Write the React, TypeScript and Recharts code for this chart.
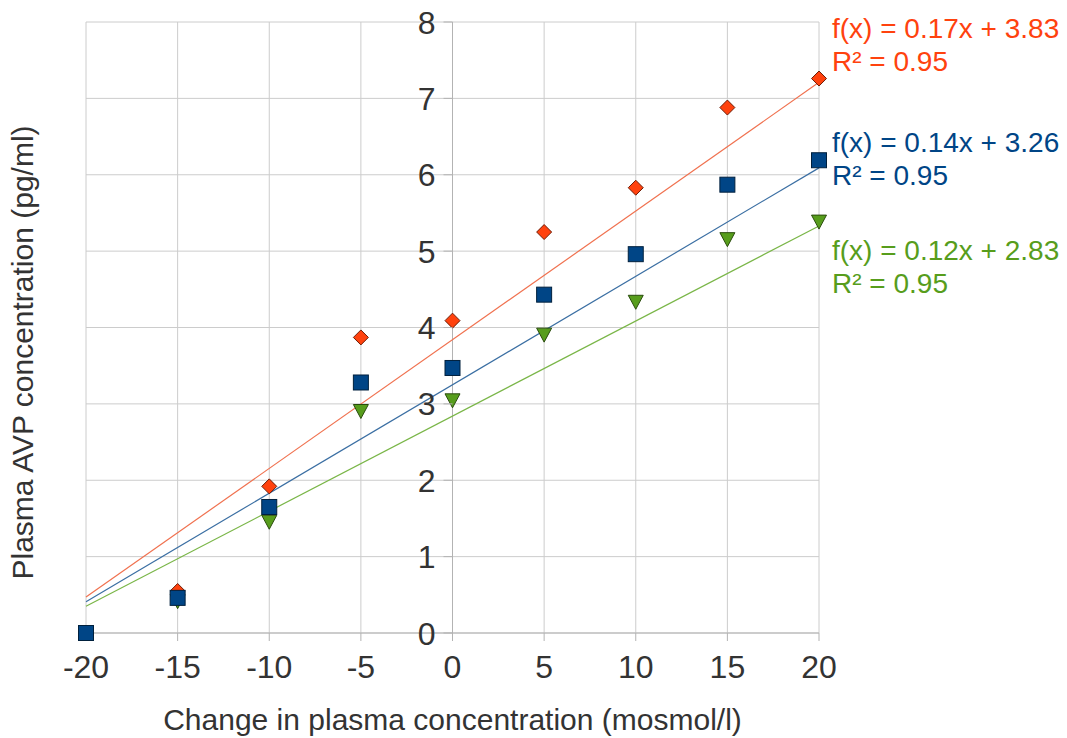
import React from 'react';
import {
  ScatterChart,
  Scatter,
  XAxis,
  YAxis,
  CartesianGrid,
  ReferenceLine,
  ReferenceDot,
  Label,
} from 'recharts';

// x values (change in plasma concentration, mosmol/l)
const xValues = [-20, -15, -10, -5, 0, 5, 10, 15, 20];
const xTicks = [-20, -15, -10, -5, 0, 5, 10, 15, 20];
const yTicks = [0, 1, 2, 3, 4, 5, 6, 7, 8];

// measured AVP (pg/ml)
const orangeValues = [0, 0.55, 1.92, 3.87, 4.09, 5.25, 5.83, 6.88, 7.26];
const blueValues = [0, 0.46, 1.65, 3.28, 3.47, 4.43, 4.96, 5.87, 6.19];
const greenValues = [0, 0.41, 1.45, 2.9, 3.04, 3.9, 4.33, 5.15, 5.38];

// trend line end points at x = -20 and x = 20
const trendX = [-20, 20];
const orangeTrend = [0.47, 7.21];
const blueTrend = [0.41, 6.09];
const greenTrend = [0.35, 5.33];

const equations = [
  { fx: 'f(x) = 0.17x + 3.83', r2: 'R² = 0.95', color: '#ff420e', at: 7.79 },
  { fx: 'f(x) = 0.14x + 3.26', r2: 'R² = 0.95', color: '#004586', at: 6.3 },
  { fx: 'f(x) = 0.12x + 2.83', r2: 'R² = 0.95', color: '#579d1c', at: 4.89 },
];

const toPoints = (xs: number[], ys: number[]) => xs.map((x, i) => ({ x, y: ys[i] }));

const FONT = '"Liberation Sans", Arial, sans-serif';
const TEXT = '#333333';
const AXIS = '#b3b3b3';
const GRID = '#cccccc';

const W = 1067;
const H = 738;
const MARGIN = { top: 22, right: 248, left: 26, bottom: 5 };
const Y_AXIS_W = 60;
const PLOT_LEFT = MARGIN.left + Y_AXIS_W;
const PLOT_W = W - PLOT_LEFT - MARGIN.right;
const ZERO_X = PLOT_LEFT + PLOT_W / 2; // y axis crosses at x = 0

function Diamond({ cx, cy }: any) {
  const s = 7.5;
  return (
    <polygon
      points={`${cx},${cy - s} ${cx + s},${cy} ${cx},${cy + s} ${cx - s},${cy}`}
      fill="#ff420e"
      stroke="#6e1c06"
      strokeWidth={1}
    />
  );
}

function Square({ cx, cy }: any) {
  const s = 7.5;
  return <rect x={cx - s} y={cy - s} width={s * 2} height={s * 2} fill="#004586" stroke="#00203d" strokeWidth={1} />;
}

function TriangleDown({ cx, cy }: any) {
  const w = 7.5;
  const h = 7;
  return (
    <polygon
      points={`${cx - w},${cy - h} ${cx + w},${cy - h} ${cx},${cy + h}`}
      fill="#579d1c"
      stroke="#2a4c0d"
      strokeWidth={1}
    />
  );
}

const noDot = () => <g />;

function YTick({ y, payload }: any) {
  return (
    <g>
      <line x1={ZERO_X - 9} x2={ZERO_X} y1={y} y2={y} stroke={AXIS} />
      <text x={ZERO_X - 17} y={y} dy="0.36em" textAnchor="end" fontSize={32} fontFamily={FONT} fill={TEXT}>
        {payload.value}
      </text>
    </g>
  );
}

function equationLabel(fx: string, r2: string, color: string) {
  return ({ viewBox }: any) => (
    <text x={viewBox.x + 13} y={viewBox.y} fontSize={28} fontFamily={FONT} fill={color}>
      <tspan x={viewBox.x + 13}>{fx}</tspan>
      <tspan x={viewBox.x + 13} dy={33}>
        {r2}
      </tspan>
    </text>
  );
}

export default function App() {
  return (
    <div style={{ position: 'absolute', left: 0, top: 0, background: '#fff' }}>
      <ScatterChart width={W} height={H} margin={MARGIN}>
        <CartesianGrid stroke={GRID} />
        <XAxis
          type="number"
          dataKey="x"
          domain={[-20, 20]}
          ticks={xTicks}
          axisLine={{ stroke: AXIS }}
          tickLine={{ stroke: AXIS }}
          tickSize={8}
          tickMargin={14}
          height={100}
          tick={{ fontSize: 32, fill: TEXT, fontFamily: FONT }}
        >
          <Label
            value="Change in plasma concentration (mosmol/l)"
            position="insideBottom"
            offset={3}
            style={{ fontSize: 30, fill: TEXT, fontFamily: FONT }}
          />
        </XAxis>
        <YAxis
          type="number"
          dataKey="y"
          domain={[0, 8]}
          ticks={yTicks}
          width={Y_AXIS_W}
          axisLine={false}
          tickLine={false}
          tick={<YTick />}
          label={({ viewBox }: any) => (
            <text
              x={viewBox.x - 4}
              y={viewBox.y + viewBox.height / 2 + 25}
              transform={`rotate(-90 ${viewBox.x - 4} ${viewBox.y + viewBox.height / 2 + 25})`}
              textAnchor="middle"
              dy="0.36em"
              fontSize={30}
              fontFamily={FONT}
              fill={TEXT}
            >
              Plasma AVP concentration (pg/ml)
            </text>
          )}
        />
        <ReferenceLine x={0} stroke={AXIS} />

        <Scatter data={toPoints(trendX, orangeTrend)} line={{ stroke: '#f0714f', strokeWidth: 1.2 }} shape={noDot} isAnimationActive={false} />
        <Scatter data={toPoints(trendX, blueTrend)} line={{ stroke: '#3b6fa3', strokeWidth: 1.2 }} shape={noDot} isAnimationActive={false} />
        <Scatter data={toPoints(trendX, greenTrend)} line={{ stroke: '#7ab648', strokeWidth: 1.2 }} shape={noDot} isAnimationActive={false} />

        <Scatter data={toPoints(xValues, orangeValues)} shape={Diamond} isAnimationActive={false} />
        <Scatter data={toPoints(xValues, greenValues)} shape={TriangleDown} isAnimationActive={false} />
        <Scatter data={toPoints(xValues, blueValues)} shape={Square} isAnimationActive={false} />

        {equations.map((eq) => (
          <ReferenceDot
            key={eq.fx + eq.color}
            x={20}
            y={eq.at}
            r={0}
            stroke="none"
            fill="none"
            label={equationLabel(eq.fx, eq.r2, eq.color)}
          />
        ))}
      </ScatterChart>
    </div>
  );
}
